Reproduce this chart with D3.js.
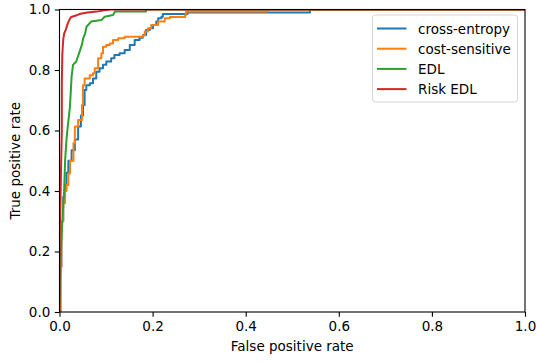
<!DOCTYPE html>
<html>
<head>
<meta charset="utf-8">
<script src="https://cdn.jsdelivr.net/npm/d3@7"></script>
<style>
  body { margin: 0; background: #fff; }
  svg { display: block; font-family: "DejaVu Sans", sans-serif; }
</style>
</head>
<body>
<div id="chart"></div>
<script>
// ROC curves, [false positive rate, true positive rate]
var crossEntropy = [[0,0],[0.002,0.15],[0.004,0.3],[0.008,0.38],[0.012,0.42],[0.015,0.46],[0.019,0.5],
  [0.026,0.535],[0.033,0.57],[0.04,0.613],[0.046,0.65],[0.0505,0.684],[0.054,0.734],[0.0576,0.75],
  [0.065,0.756],[0.072,0.772],[0.079,0.794],[0.086,0.806],[0.0935,0.817],[0.1005,0.828],[0.111,0.839],
  [0.118,0.85],[0.129,0.855],[0.14,0.866],[0.151,0.883],[0.1615,0.899],[0.172,0.907],[0.179,0.916],
  [0.186,0.932],[0.194,0.938],[0.201,0.949],[0.208,0.96],[0.212,0.971],[0.219,0.976],[0.222,0.985],
  [0.275,0.985],[0.275,0.99],[0.538,0.99],[0.538,1],[1,1]];
var costSensitive = [[0,0],[0.002,0.15],[0.004,0.3],[0.008,0.36],[0.012,0.4],[0.015,0.42],[0.019,0.458],
  [0.0225,0.5],[0.03,0.558],[0.033,0.613],[0.04,0.635],[0.0483,0.684],[0.0505,0.75],[0.054,0.772],
  [0.065,0.783],[0.072,0.789],[0.0756,0.806],[0.083,0.839],[0.09,0.855],[0.0935,0.877],[0.1005,0.883],
  [0.108,0.888],[0.115,0.899],[0.126,0.905],[0.14,0.91],[0.179,0.914],[0.183,0.927],[0.19,0.938],
  [0.197,0.949],[0.212,0.96],[0.226,0.971],[0.237,0.975],[0.27,0.982],[0.272,0.993],[0.448,0.993],
  [0.448,1],[1,1]];
var edl = [[0,0],[0.003,0.2],[0.006,0.3],[0.01,0.4],[0.012,0.5],[0.015,0.57],[0.0175,0.61],[0.0225,0.68],
  [0.026,0.778],[0.029,0.817],[0.036,0.828],[0.043,0.86],[0.048,0.883],[0.051,0.905],[0.055,0.92],
  [0.058,0.943],[0.068,0.96],[0.09,0.965],[0.097,0.976],[0.115,0.982],[0.119,0.993],[0.186,0.993],
  [0.186,1],[1,1]];
var riskEdl = [[0,0],[0,0.25],[0.002,0.35],[0.003,0.45],[0.005,0.6],[0.005,0.75],[0.006,0.85],[0.008,0.9],
  [0.01,0.92],[0.014,0.935],[0.018,0.955],[0.021,0.965],[0.025,0.975],[0.039,0.982],[0.045,0.986],
  [0.06,0.99],[0.08,0.993],[0.093,0.997],[0.11,1],[1,1]];

var seriesNames = ["cross-entropy", "cost-sensitive", "EDL", "Risk EDL"];
var seriesColors = ["#1f77b4", "#ff7f0e", "#2ca02c", "#d62728"];
var seriesData = [crossEntropy, costSensitive, edl, riskEdl];
var seriesStepped = [true, true, false, false];
var tickValues = [0, 0.2, 0.4, 0.6, 0.8, 1.0];

var width = 537, height = 362;
var plotLeft = 59.5, plotRight = 525, plotTop = 9.5, plotBottom = 312;

var svg = d3.select("#chart").append("svg")
  .attr("width", width)
  .attr("height", height);

var x = d3.scaleLinear().domain([0, 1]).range([plotLeft, plotRight]);
var y = d3.scaleLinear().domain([0, 1]).range([plotBottom, plotTop]);

svg.append("defs").append("clipPath")
  .attr("id", "plotclip")
  .append("rect")
  .attr("x", plotLeft).attr("y", plotTop)
  .attr("width", plotRight - plotLeft).attr("height", plotBottom - plotTop);

var plot = svg.append("g").attr("clip-path", "url(#plotclip)");
seriesData.forEach(function(s, i){
  var line = d3.line()
    .x(function(d){ return x(d[0]); })
    .y(function(d){ return y(d[1]); })
    .curve(seriesStepped[i] ? d3.curveStepAfter : d3.curveLinear);
  plot.append("path")
    .datum(s)
    .attr("d", line)
    .attr("fill", "none")
    .attr("stroke", seriesColors[i])
    .attr("stroke-width", 2)
    .attr("stroke-linejoin", "round");
});

//axes
var xAxis = svg.append("g")
  .attr("transform", "translate(0," + plotBottom + ")")
  .call(d3.axisBottom(x).tickValues(tickValues).tickFormat(d3.format(".1f")).tickSize(4.7).tickPadding(4.5));
var yAxis = svg.append("g")
  .attr("transform", "translate(" + plotLeft + ",0)")
  .call(d3.axisLeft(y).tickValues(tickValues).tickFormat(d3.format(".1f")).tickSize(4.7).tickPadding(4.5));

[xAxis, yAxis].forEach(function(a){
  a.select(".domain").remove();
  a.selectAll(".tick line").attr("stroke", "#000").attr("stroke-width", 1.1);
  a.selectAll(".tick text").attr("fill", "#000").style("font-size", "13.5px").style("font-family", "DejaVu Sans");
});

svg.append("rect")
  .attr("x", plotLeft).attr("y", plotTop)
  .attr("width", plotRight - plotLeft).attr("height", plotBottom - plotTop)
  .attr("fill", "none")
  .attr("stroke", "#000")
  .attr("stroke-width", 1.1);

svg.append("text")
  .attr("x", (plotLeft + plotRight) / 2)
  .attr("y", 351)
  .attr("text-anchor", "middle")
  .style("font-size", "13.5px")
  .text("False positive rate");

svg.append("text")
  .attr("transform", "translate(19.5," + ((plotTop + plotBottom) / 2) + ") rotate(-90)")
  .attr("text-anchor", "middle")
  .style("font-size", "13.5px")
  .text("True positive rate");

//legend
var legend = svg.append("g");
legend.append("rect")
  .attr("x", 372.5).attr("y", 15)
  .attr("width", 145).attr("height", 87)
  .attr("rx", 3)
  .attr("fill", "#fff")
  .attr("fill-opacity", 0.8)
  .attr("stroke", "#d6d6d6")
  .attr("stroke-width", 1);

seriesNames.forEach(function(name, i){
  var ly = 28.5 + i * 20.2;
  legend.append("line")
    .attr("x1", 377).attr("x2", 406.5)
    .attr("y1", ly).attr("y2", ly)
    .attr("stroke", seriesColors[i])
    .attr("stroke-width", 2);
  legend.append("text")
    .attr("x", 418)
    .attr("y", ly + 5)
    .style("font-size", "13.5px")
    .text(name);
});
</script>
</body>
</html>
